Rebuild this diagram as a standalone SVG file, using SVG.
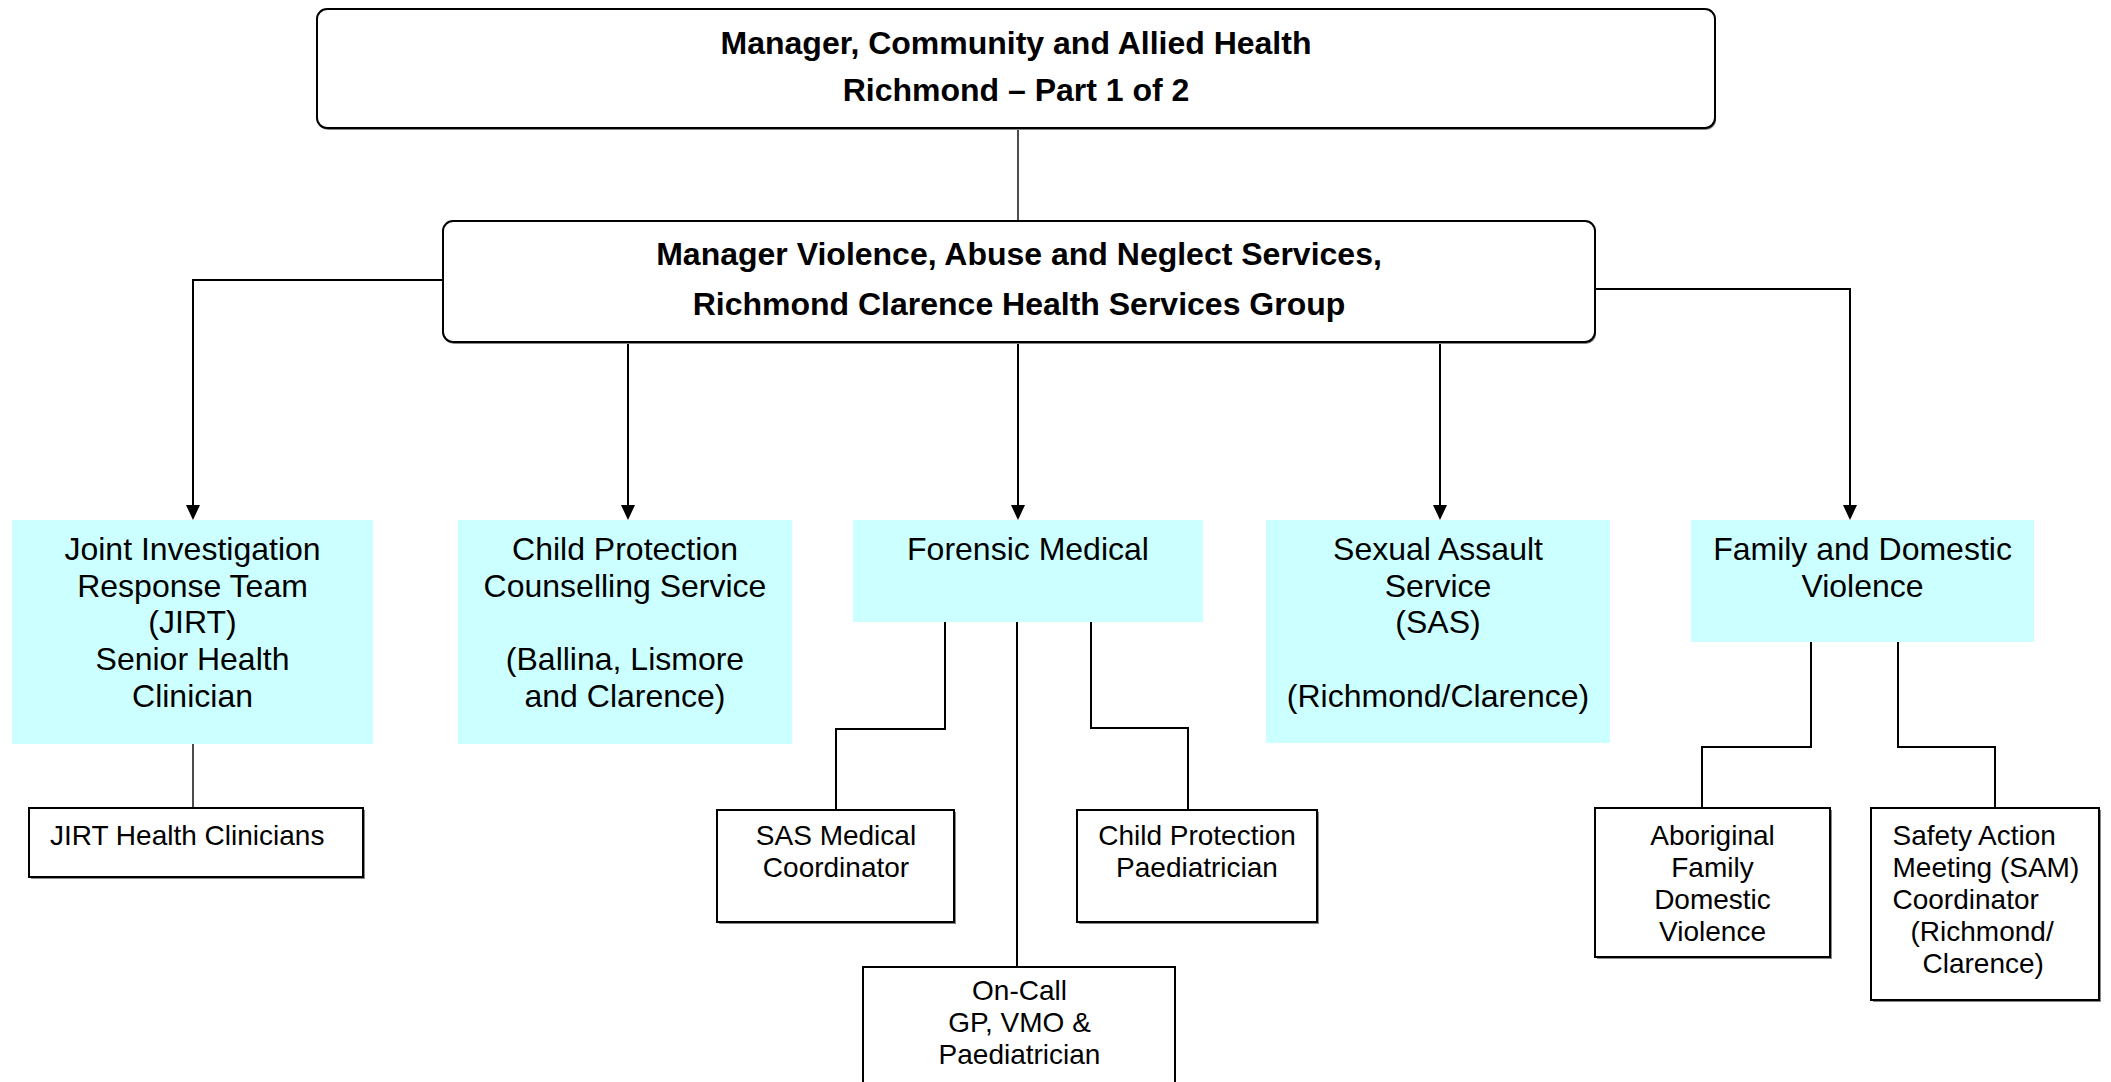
<svg xmlns="http://www.w3.org/2000/svg" width="2111" height="1082" viewBox="0 0 2111 1082">
<style>
text{font-family:"Liberation Sans",Arial,sans-serif;fill:#000}
.hd{font-size:32px;font-weight:bold;text-anchor:middle}
.big{font-size:32px;text-anchor:middle}
.sm{font-size:28px;text-anchor:middle}
.sml{font-size:28px}
.rbox{fill:#fff;stroke:#000;stroke-width:2}
.cyan{fill:#CCFFFF;stroke:none}
.wbox{fill:#fff;stroke:#000;stroke-width:2}
.shadow{fill:#888;stroke:none}
.ln{fill:none;stroke:#000;stroke-width:2}
.thin{fill:none;stroke:#000;stroke-width:1.4}
</style>
<defs>
<marker id="arr" markerUnits="userSpaceOnUse" markerWidth="14" markerHeight="16" viewBox="0 0 14 16" refX="7" refY="16" orient="auto">
<path d="M0,0 L14,0 L7,16 Z" fill="#000"/>
</marker>
</defs>
<rect width="2111" height="1082" fill="#fff"/>

<g id="connectors">
<line class="thin" x1="1018" y1="129" x2="1018" y2="221"/>
<path class="ln" d="M443,280 H193 V506"/>
<path class="ln" d="M628,342 V506"/>
<path class="ln" d="M1018,342 V506"/>
<path class="ln" d="M1440,342 V506"/>
<path class="ln" d="M1595,289 H1850 V506"/>
<line class="thin" x1="193" y1="744" x2="193" y2="808"/>
<path class="ln" d="M945,622 V729 H836 V810"/>
<path class="ln" d="M1017,622 V967"/>
<path class="ln" d="M1091,622 V728 H1188 V810"/>
<path class="ln" d="M1811,642 V747 H1702 V808"/>
<path class="ln" d="M1898,642 V747 H1995 V808"/>
<g fill="#000">
<path d="M186,505 H200 L193,520 Z"/>
<path d="M621,505 H635 L628,520 Z"/>
<path d="M1011,505 H1025 L1018,520 Z"/>
<path d="M1433,505 H1447 L1440,520 Z"/>
<path d="M1843,505 H1857 L1850,520 Z"/>
</g>
</g>

<g id="top-manager">
<rect class="shadow" x="318" y="11" width="1398" height="119" rx="10"/>
<rect class="rbox" x="317" y="9" width="1398" height="119" rx="10"/>
<text class="hd" x="1016" y="54">Manager, Community and Allied Health</text>
<text class="hd" x="1016" y="101">Richmond – Part 1 of 2</text>
</g>

<g id="van-manager">
<rect class="shadow" x="444" y="223" width="1152" height="121" rx="10"/>
<rect class="rbox" x="443" y="221" width="1152" height="121" rx="10"/>
<text class="hd" x="1019" y="265">Manager Violence, Abuse and Neglect Services,</text>
<text class="hd" x="1019" y="315">Richmond Clarence Health Services Group</text>
</g>

<g id="jirt">
<rect class="cyan" x="12" y="520" width="361" height="224"/>
<text class="big" x="192.5" y="560">Joint Investigation</text>
<text class="big" x="192.5" y="597">Response Team</text>
<text class="big" x="192.5" y="633">(JIRT)</text>
<text class="big" x="192.5" y="670">Senior Health</text>
<text class="big" x="192.5" y="707">Clinician</text>
</g>

<g id="cpcs">
<rect class="cyan" x="458" y="520" width="334" height="224"/>
<text class="big" x="625" y="560">Child Protection</text>
<text class="big" x="625" y="597">Counselling Service</text>
<text class="big" x="625" y="670">(Ballina, Lismore</text>
<text class="big" x="625" y="707">and Clarence)</text>
</g>

<g id="forensic">
<rect class="cyan" x="853" y="520" width="350" height="102"/>
<text class="big" x="1028" y="560">Forensic Medical</text>
</g>

<g id="sas">
<rect class="cyan" x="1266" y="520" width="344" height="223"/>
<text class="big" x="1438" y="560">Sexual Assault</text>
<text class="big" x="1438" y="597">Service</text>
<text class="big" x="1438" y="633">(SAS)</text>
<text class="big" x="1438" y="707">(Richmond/Clarence)</text>
</g>

<g id="fdv">
<rect class="cyan" x="1691" y="520" width="343" height="122"/>
<text class="big" x="1862.5" y="560">Family and Domestic</text>
<text class="big" x="1862.5" y="597">Violence</text>
</g>

<g id="jirt-clinicians">
<rect class="shadow" x="31" y="810" width="334" height="69"/>
<rect class="wbox" x="29" y="808" width="334" height="69"/>
<text class="sml" x="50" y="845">JIRT Health Clinicians</text>
</g>

<g id="sas-medical">
<rect class="shadow" x="719" y="812" width="237" height="112"/>
<rect class="wbox" x="717" y="810" width="237" height="112"/>
<text class="sm" x="836" y="845">SAS Medical</text>
<text class="sm" x="836" y="877">Coordinator</text>
</g>

<g id="cp-paed">
<rect class="shadow" x="1079" y="812" width="240" height="112"/>
<rect class="wbox" x="1077" y="810" width="240" height="112"/>
<text class="sm" x="1197" y="845">Child Protection</text>
<text class="sm" x="1197" y="877">Paediatrician</text>
</g>

<g id="on-call">
<rect class="wbox" x="863" y="967" width="312" height="130"/>
<text class="sm" x="1019.5" y="1000">On-Call</text>
<text class="sm" x="1019.5" y="1032">GP, VMO &amp;</text>
<text class="sm" x="1019.5" y="1064">Paediatrician</text>
</g>

<g id="aboriginal-fdv">
<rect class="shadow" x="1597" y="810" width="235" height="149"/>
<rect class="wbox" x="1595" y="808" width="235" height="149"/>
<text class="sm" x="1712.5" y="845">Aboriginal</text>
<text class="sm" x="1712.5" y="877">Family</text>
<text class="sm" x="1712.5" y="909">Domestic</text>
<text class="sm" x="1712.5" y="941">Violence</text>
</g>

<g id="sam-coordinator">
<rect class="shadow" x="1873" y="810" width="228" height="192"/>
<rect class="wbox" x="1871" y="808" width="228" height="192"/>
<text class="sml" x="1892.5" y="845">Safety Action</text>
<text class="sml" x="1892.5" y="877">Meeting (SAM)</text>
<text class="sml" x="1892.5" y="909">Coordinator</text>
<text class="sml" x="1910.5" y="941">(Richmond/</text>
<text class="sml" x="1922.5" y="973">Clarence)</text>
</g>
</svg>
